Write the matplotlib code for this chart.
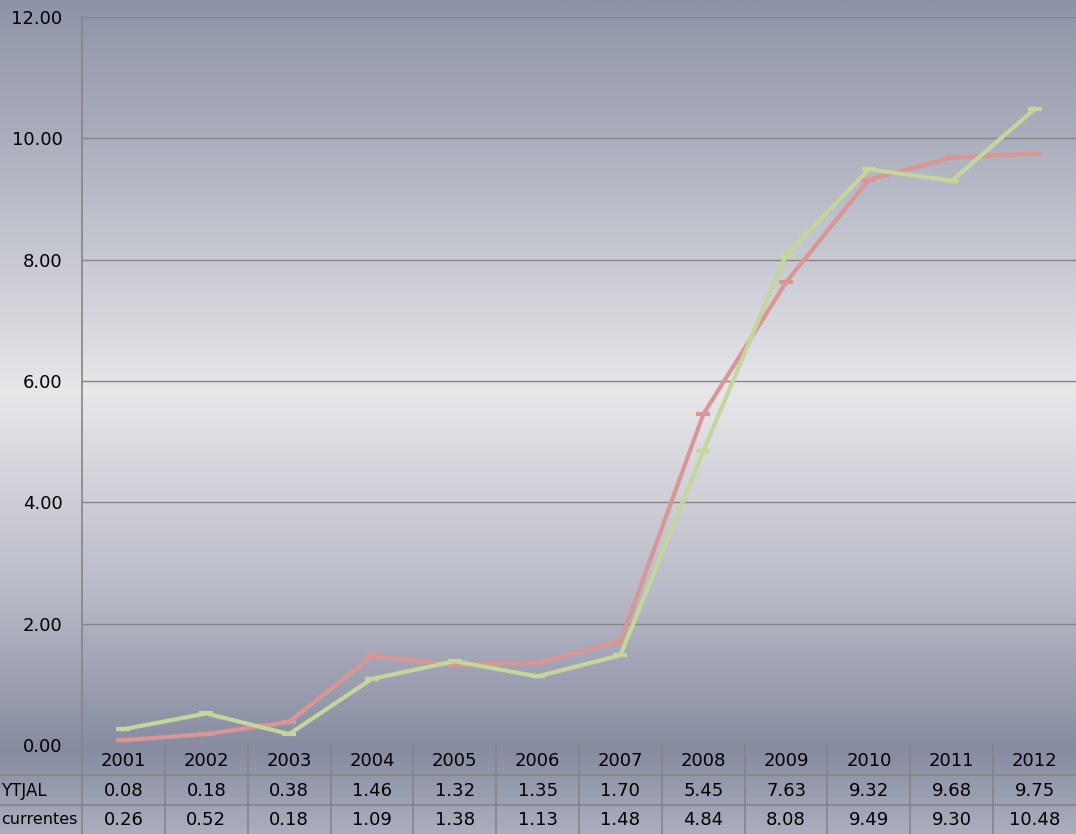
import numpy as np
import matplotlib
matplotlib.use('Agg')
import matplotlib.pyplot as plt
from matplotlib import transforms
from matplotlib.lines import Line2D
from matplotlib.colors import LinearSegmentedColormap

years = ['2001', '2002', '2003', '2004', '2005', '2006', '2007', '2008', '2009', '2010', '2011', '2012']
ytjal = [0.08, 0.18, 0.38, 1.46, 1.32, 1.35, 1.70, 5.45, 7.63, 9.32, 9.68, 9.75]
currentes = [0.26, 0.52, 0.18, 1.09, 1.38, 1.13, 1.48, 4.84, 8.08, 9.49, 9.30, 10.48]
row_labels = ['YTJAL', 'currentes']

red = '#D99694'
green = '#C3D69B'
gridc = '#858585'

plt.rcParams['font.family'] = ['DejaVu Sans']
W, H = 1076, 834
fig = plt.figure(figsize=(W / 100, H / 100), dpi=100)

# background gradient over whole figure
bg = fig.add_axes([0, 0, 1, 1], zorder=-10)
stops = [(0.0, (142, 147, 168)), (0.17, (172, 175, 189)), (0.47, (231, 231, 234)),
         (0.72, (182, 184, 197)), (0.90, (135, 139, 160)), (1.0, (170, 174, 190))]
cmap = LinearSegmentedColormap.from_list('bg', [(p, tuple(c / 255 for c in rgb)) for p, rgb in stops])
grad = np.linspace(0, 1, 512).reshape(-1, 1)
bg.imshow(grad, aspect='auto', cmap=cmap, extent=[0, 1, 1, 0])
bg.set_xlim(0, 1)
bg.set_ylim(1, 0)
bg.axis('off')

# main plot area
left, right, top, bottom = 82, 1076, 17, 745
ax = fig.add_axes([left / W, 1 - bottom / H, (right - left) / W, (bottom - top) / H])
ax.set_facecolor('none')
x = np.arange(len(years))
ax.plot(x, ytjal, color=red, lw=3, marker='_', ms=10, mew=3, zorder=3)
ax.plot(x, currentes, color=green, lw=3, marker='_', ms=10, mew=3, zorder=4)
ax.set_xlim(-0.5, len(years) - 0.5)
ax.set_ylim(0, 12)
ax.set_yticks(np.arange(0, 13, 2))
ax.set_yticklabels(['%.2f' % v for v in np.arange(0, 13, 2)], fontsize=13)
ax.set_xticks([])
ax.tick_params(axis='y', length=0, pad=14)
ax.grid(axis='y', color=gridc, lw=1)
ax.set_axisbelow(True)
for s in ['top', 'right', 'bottom', 'left']:
    ax.spines[s].set_visible(False)

# left vertical line down through table
fig.add_artist(Line2D([left / W, left / W], [0, 1 - top / H], color=gridc, lw=1.2, transform=fig.transFigure))

# data table
tr = transforms.blended_transform_factory(ax.transData, fig.transFigure)
for py in [775, 805]:
    fig.add_artist(Line2D([0, 1], [1 - py / H, 1 - py / H], color=gridc, lw=1.2, transform=fig.transFigure))
for k in range(len(years) - 1):
    fig.add_artist(Line2D([k + 0.5, k + 0.5], [0, 1 - bottom / H], color=gridc, lw=1.2, transform=tr))

for i, yr in enumerate(years):
    fig.text(i, 1 - 761 / H, yr, transform=tr, ha='center', va='center', fontsize=13)
    fig.text(i, 1 - 791 / H, '%.2f' % ytjal[i], transform=tr, ha='center', va='center', fontsize=13)
    fig.text(i, 1 - 820 / H, '%.2f' % currentes[i], transform=tr, ha='center', va='center', fontsize=13)

fig.text(1 / W, 1 - 791 / H, row_labels[0], ha='left', va='center', fontsize=12)
fig.text(1 / W, 1 - 820 / H, row_labels[1], ha='left', va='center', fontsize=11.5)

fig.savefig('out.png', dpi=100)
